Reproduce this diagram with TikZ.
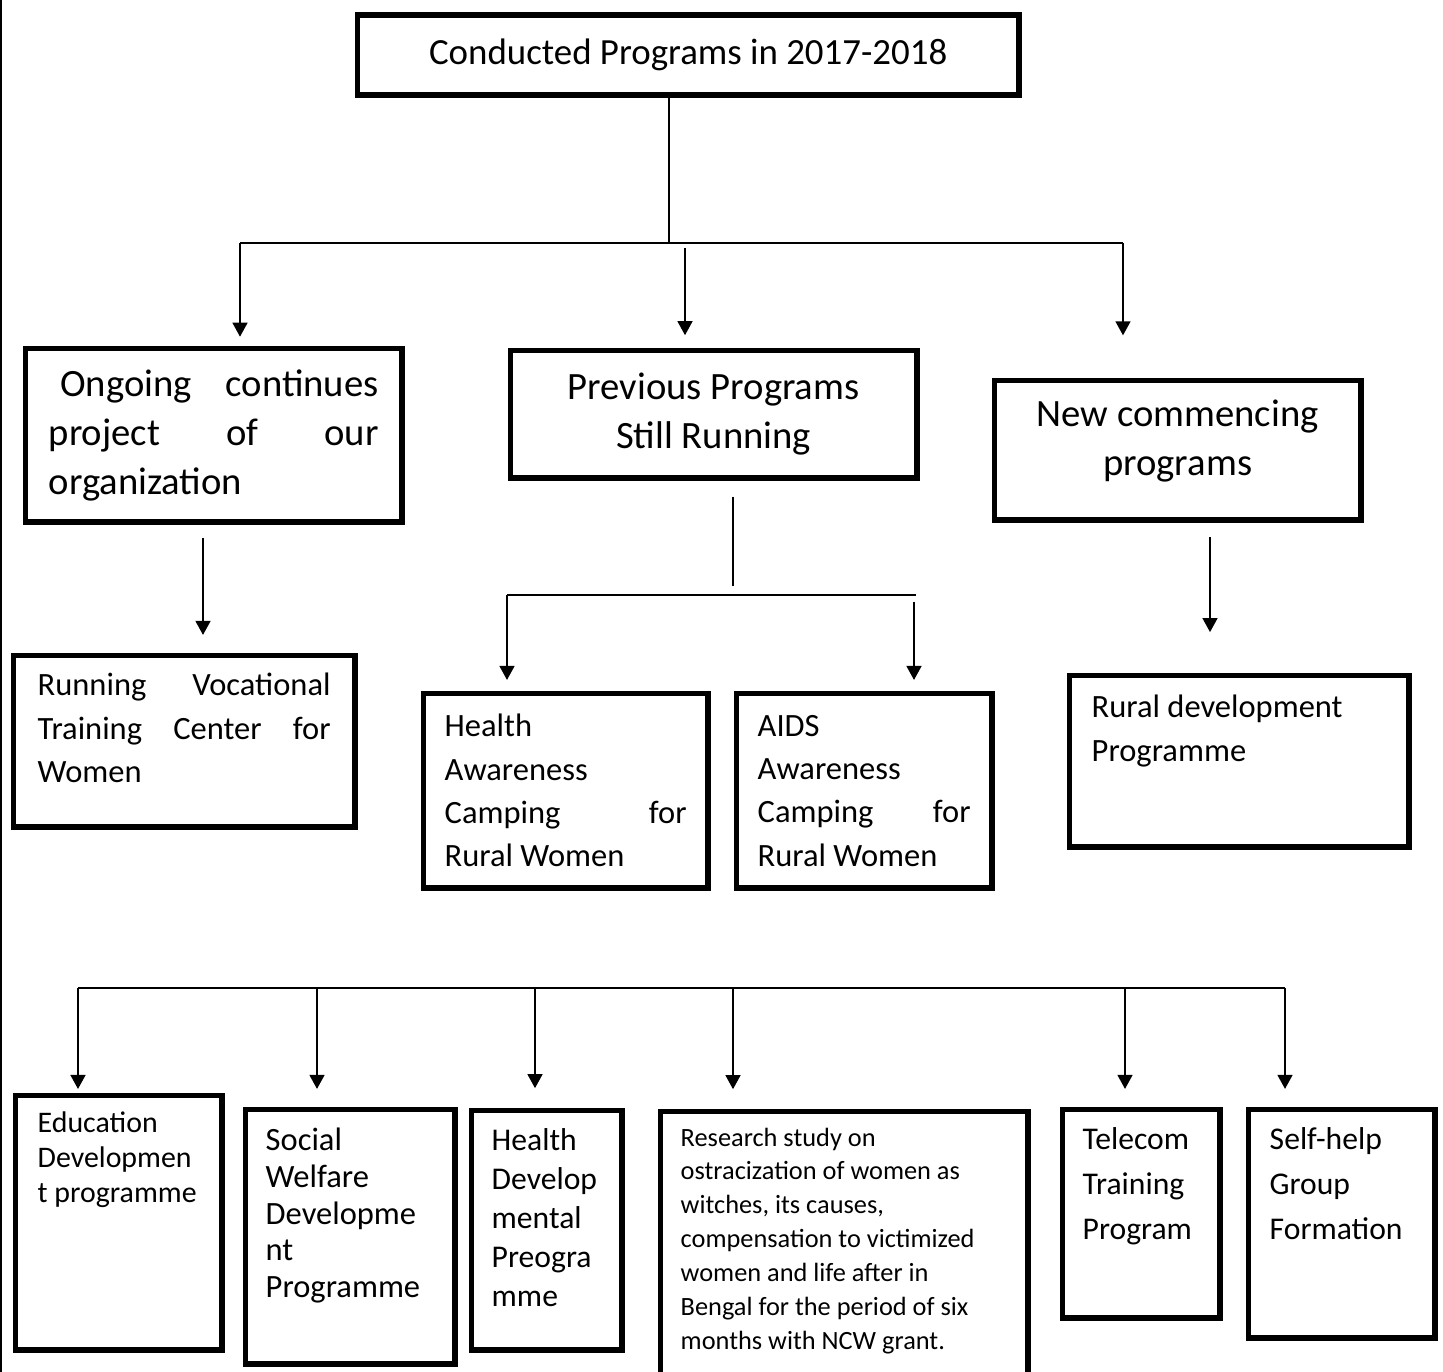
\documentclass[tikz,border=0pt]{standalone}
\usepackage{fontspec}
\setmainfont{Carlito}
\setsansfont{Carlito}
\usetikzlibrary{arrows.meta}

\newcommand{\topcell}[3]{\parbox[c][#1][t]{#2}{#3}}

\begin{document}
\begin{tikzpicture}[x=0.02cm,y=-0.02cm,font=\sffamily,>={Triangle[length=8pt,width=8.5pt]},line width=1pt]

		\tikzset{box/.style={draw, line width=3.1pt, anchor=north west, inner sep=0pt}}
		\tikzset{big/.style={font=\sffamily\fontsize{22}{27.8}\selectfont}}
		\tikzset{mid/.style={font=\sffamily\fontsize{18.5}{24.7}\selectfont}}

	\useasboundingbox (0,0) rectangle (1443,1372);
	\clip (0,0) rectangle (1443,1372);

	% page edge
	\draw[line width=1.2pt] (1,0) -- (1,1372);

	% first and second level
	\node[box, minimum width=13.24cm, minimum height=1.6cm, font=\sffamily\fontsize{21}{26}\selectfont] (top) at (354.5,12.5) {Conducted Programs in 2017-2018};

	\node[box, big, minimum width=7.54cm, minimum height=3.48cm, text width=6.6cm, align=justify] (ongoing) at (22.5,345.5) {\hspace*{0.3em}Ongoing \hfill continues\\ project \hfill of \hfill our\\ organization};
	\node[box, big, minimum width=8.14cm, minimum height=2.56cm, align=center] (prev) at (507.5,347.5) {Previous Programs\\ Still Running};
	\node[box, big, inner xsep=0pt, inner ysep=0.39cm] (new) at (991.5,377.5) {\topcell{2.02cm}{7.34cm}{\centering New commencing\\ programs}};

	% third level
	\node[box, mid, inner xsep=0.49cm, inner ysep=0.36cm] (running) at (10.5,652.5) {\topcell{2.72cm}{5.86cm}{Running \hfill Vocational\\ Training \hfill Center \hfill for\\ Women}};
	\node[box, mid, minimum width=5.7cm, minimum height=3.9cm, text width=4.84cm, align=justify] (health) at (420.5,690.5) {Health\\ Awareness\\ Camping \hfill for\\ Rural Women};
	\node[box, mid, minimum width=5.12cm, minimum height=3.9cm, text width=4.26cm, align=justify] (aids) at (733.5,690.5) {AIDS\\ Awareness\\ Camping \hfill for\\ Rural Women};
	\node[box, mid, inner xsep=0.45cm, inner ysep=0.4cm] (rural) at (1066.5,672.5) {\topcell{2.64cm}{5.9cm}{Rural development\\ Programme}};

	% bottom row
	\node[box, inner xsep=0.45cm, inner ysep=0.34cm, font=\sffamily\fontsize{17}{19.8}\selectfont] (edu) at (12.5,1092.5) {\topcell{4.42cm}{3.24cm}{Education\\ Developmen\\ t programme}};
	\node[box, inner xsep=0.41cm, inner ysep=0.37cm, font=\sffamily\fontsize{18.5}{21}\selectfont] (soc) at (242.5,1106.5) {\topcell{4.36cm}{3.38cm}{Social\\ Welfare\\ Developme\\ nt\\ Programme}};
	\node[box, inner xsep=0.41cm, inner ysep=0.37cm, font=\sffamily\fontsize{18}{22.1}\selectfont] (hdev) at (468.5,1107.5) {\topcell{4.06cm}{2.2cm}{Health\\ Develop\\ mental\\ Preogra\\ mme}};
	\node[box, inner xsep=0.41cm, inner ysep=0.33cm, font=\sffamily\fontsize{15}{19.3}\selectfont] (research) at (657.5,1108.5) {\topcell{5.34cm}{6.54cm}{Research study on\\ ostracization of women as\\ witches, its causes,\\ compensation to victimized\\ women and life after in\\ Bengal for the period of six\\ months with NCW grant.}};
	\node[box, inner xsep=0.41cm, inner ysep=0.37cm, font=\sffamily\fontsize{18}{25.5}\selectfont] (telecom) at (1059.5,1106.5) {\topcell{3.44cm}{2.34cm}{Telecom\\ Training\\ Program}};
	\node[box, inner xsep=0.43cm, inner ysep=0.37cm, font=\sffamily\fontsize{18}{25.5}\selectfont] (selfhelp) at (1245.5,1106.5) {\topcell{3.84cm}{2.88cm}{Self-help\\ Group\\ Formation}};

	% branch points
	\coordinate (t0) at (669,243);
	\coordinate (bl) at (240,243);
	\coordinate (bm) at (685,248);
	\coordinate (br) at (1123,243);
	\coordinate (v1) at (203,538);
	\coordinate (p1) at (733,586);
	\coordinate (hl) at (507,595);
	\coordinate (hr) at (916,595);
	\coordinate (hr2) at (914,602);
	\coordinate (v3) at (1210,537);
	\coordinate (q1) at (78,988);
	\coordinate (q2) at (317,988);
	\coordinate (q3) at (535,988);
	\coordinate (q4) at (733,988);
	\coordinate (q5) at (1125,988);
	\coordinate (q6) at (1285,988);

	\draw (top.south -| t0) -- (t0);
	\draw (bl) -- (br);
	\draw[shorten <=9pt] (prev.south -| p1) -- (p1);
	\draw (hl) -- (hr);
	\draw (q1) -- (q6);

	\path[->]
	(bl) edge[shorten >=5pt]	(bl |- ongoing.north)
	(bm) edge[shorten >=7pt]	(bm |- prev.north)
	(br) edge[shorten >=24pt]	(br |- new.north)
	(v1) edge[shorten >=10pt]	(v1 |- running.north)
	(hl) edge[shorten >=6pt]	(hl |- health.north)
	(hr2) edge[shorten >=6pt]	(hr2 |- aids.north)
	(v3) edge[shorten >=23pt]	(v3 |- rural.north)
	(q1) edge[shorten >=2pt]	(q1 |- edu.north)
	(q2) edge[shorten >=10pt]	(q2 |- soc.north)
	(q3) edge[shorten >=11pt]	(q3 |- hdev.north)
	(q4) edge[shorten >=11pt]	(q4 |- research.north)
	(q5) edge[shorten >=10pt]	(q5 |- telecom.north)
	(q6) edge[shorten >=10pt]	(q6 |- selfhelp.north);
	\end{tikzpicture}
\end{document}
